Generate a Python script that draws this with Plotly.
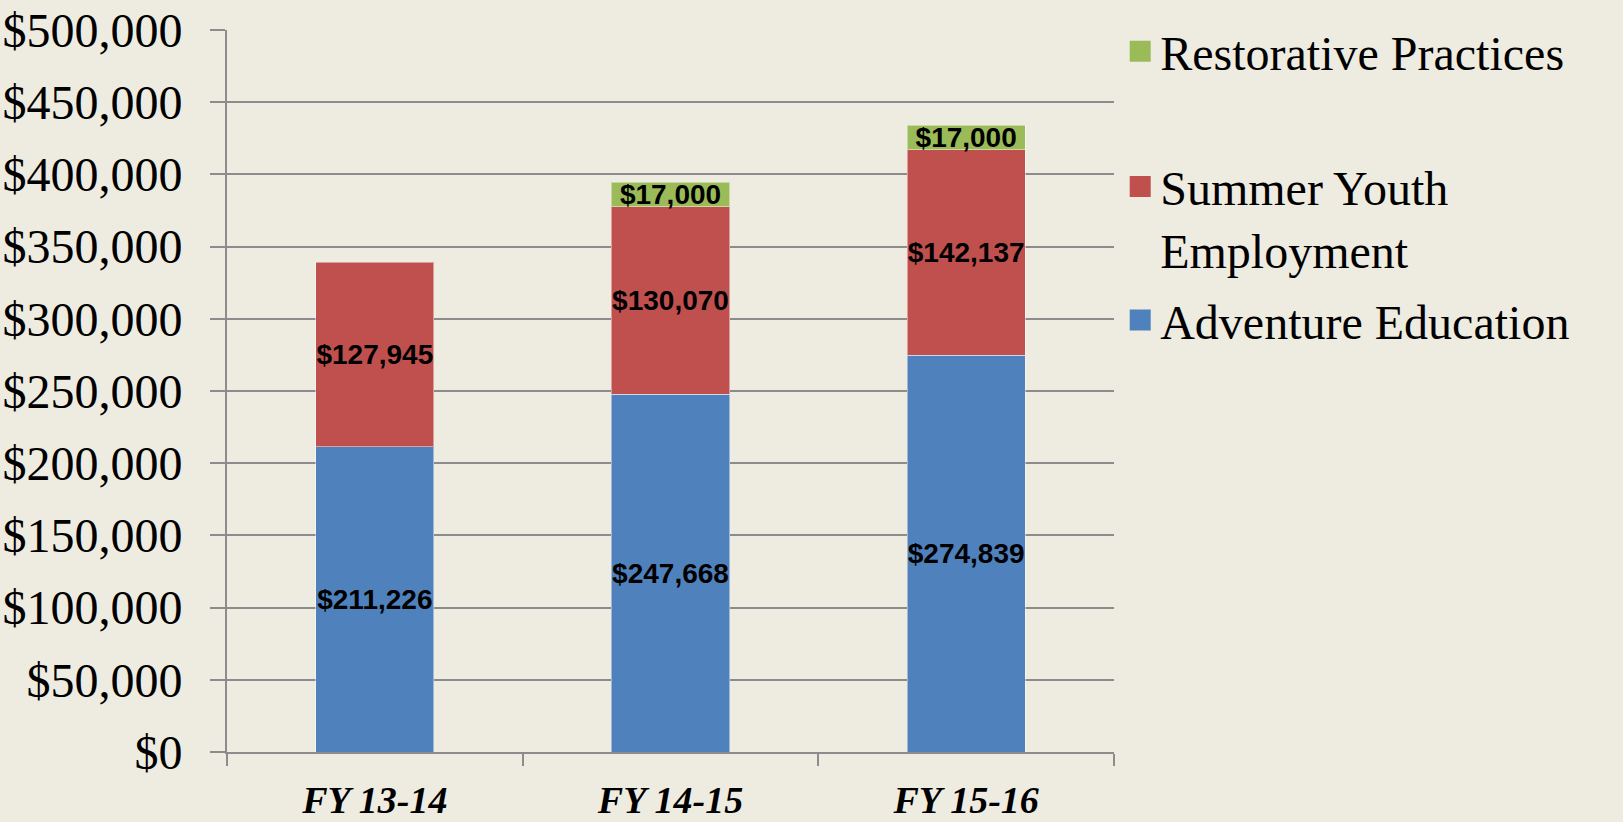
import plotly.graph_objects as go

# data
years = ["FY 13-14", "FY 14-15", "FY 15-16"]
adventure = [211226, 247668, 274839]
summer = [127945, 130070, 142137]
restorative = [None, 17000, 17000]

y_ticks = list(range(0, 500001, 50000))
y_labels = ["${:,}".format(v) for v in y_ticks]

BG = "#EEEBE0"
GRID = "#8C8C8C"
SERIF = "Liberation Serif"

series = [
    ("Adventure Education", adventure, "#4F81BD", "legend3"),
    ("Summer Youth<br>Employment", summer, "#C0504D", "legend2"),
    ("Restorative Practices", restorative, "#9BBB59", "legend"),
]

fig = go.Figure()
for name, vals, color, leg in series:
    fig.add_trace(go.Bar(
        x=years,
        y=vals,
        name=name,
        showlegend=False,
        marker=dict(color=color, line=dict(color="rgba(255,255,255,0.45)", width=1)),
        text=["${:,}".format(v) if v else "" for v in vals],
        textposition="inside",
        insidetextanchor="middle",
        textangle=0,
        textfont=dict(family="Liberation Sans", size=28, color="black", weight="bold"),
        hoverinfo="skip",
    ))
    # legend-only proxy so the swatch can be drawn larger than a bar swatch
    fig.add_trace(go.Scatter(
        x=[None],
        y=[None],
        name=name,
        legend=leg,
        mode="markers",
        marker=dict(symbol="square", size=16, color=color, line=dict(color=color, width=5)),
        hoverinfo="skip",
    ))

legend_font = dict(family=SERIF, size=48, color="black")
legend_common = dict(
    x=1.007, xanchor="left", yanchor="middle",
    bgcolor="rgba(0,0,0,0)", font=legend_font, valign="top",
)

fig.update_layout(
    barmode="stack",
    bargap=0.6,
    width=1623,
    height=822,
    margin=dict(l=227, r=509, t=30, b=70, autoexpand=False),
    paper_bgcolor=BG,
    plot_bgcolor=BG,
    showlegend=True,
    uniformtext=dict(minsize=28, mode="show"),
    legend=dict(y=0.97, **legend_common),
    legend2=dict(y=0.74, **legend_common),
    legend3=dict(y=0.598, **legend_common),
    xaxis=dict(
        type="category",
        categoryarray=years,
        tickson="boundaries",
        ticks="outside",
        ticklen=12,
        tickwidth=2,
        tickcolor=GRID,
        showline=True,
        linecolor=GRID,
        linewidth=2,
        showgrid=False,
        automargin=False,
        tickfont=dict(family=SERIF, size=38, color="black", weight="bold", style="italic"),
        ticklabelstandoff=13,
    ),
    yaxis=dict(
        range=[0, 500000],
        tickvals=y_ticks,
        ticktext=y_labels,
        ticks="outside",
        ticklen=15,
        tickwidth=2,
        tickcolor=GRID,
        showline=True,
        linecolor=GRID,
        linewidth=2,
        showgrid=True,
        gridcolor=GRID,
        gridwidth=2,
        zeroline=False,
        automargin=False,
        tickfont=dict(family=SERIF, size=48, color="black"),
        ticklabelstandoff=18,
    ),
)

fig.write_html(
    "out.html",
    config={"displayModeBar": False},
    post_script="document.body.style.margin='0';document.body.style.overflow='hidden';",
)
